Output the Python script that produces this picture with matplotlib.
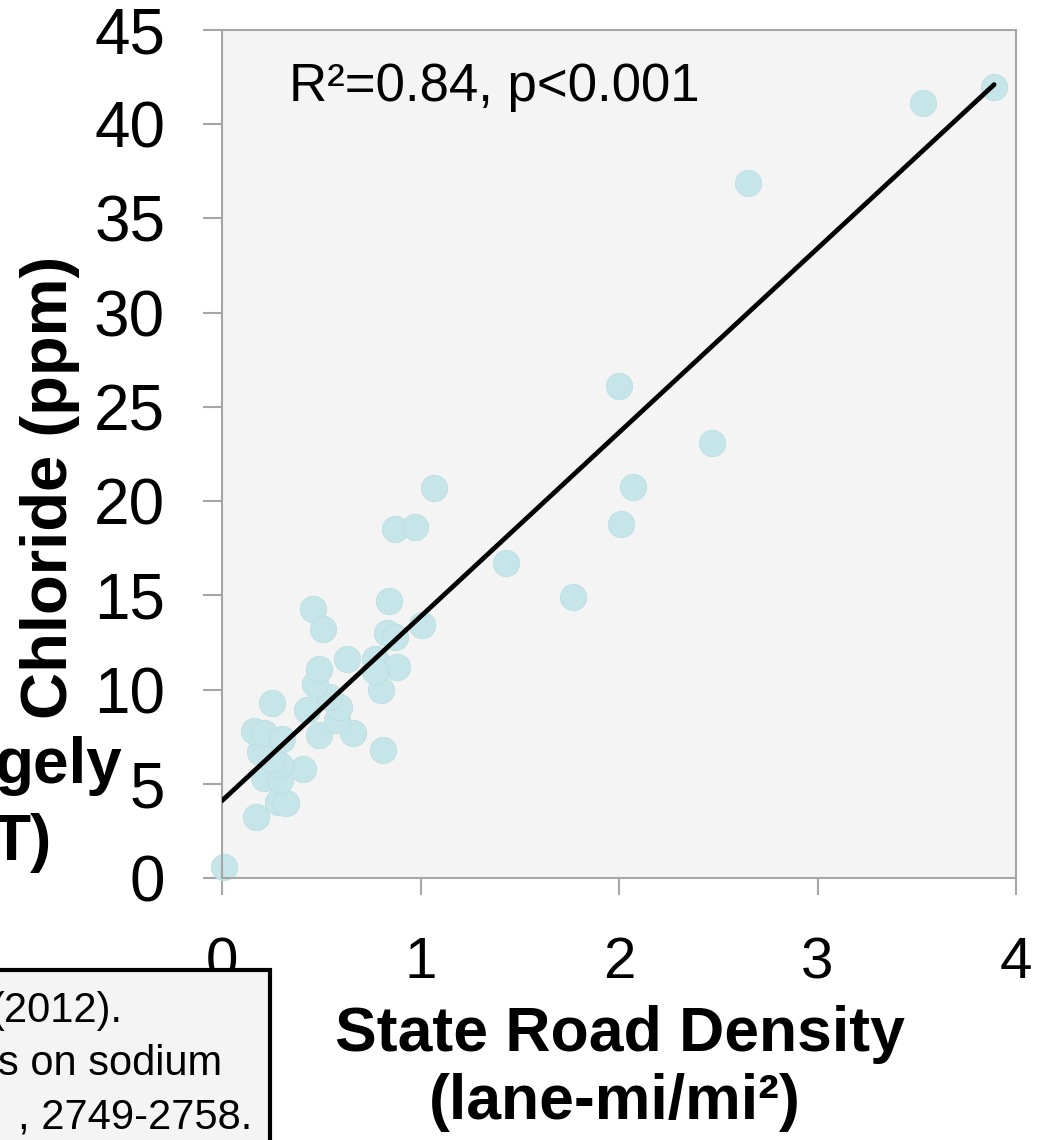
import matplotlib.pyplot as plt
from matplotlib.patches import Rectangle

# road density (lane-mi/mi2) vs chloride (ppm)
density = [0.01, 0.17, 0.28, 0.32, 0.21, 0.29, 0.41, 0.29, 0.25, 0.19,
           0.16, 0.21, 0.30, 0.25, 0.49, 0.66, 0.81, 0.43, 0.58, 0.59,
           0.54, 0.47, 0.49, 0.63, 0.77, 0.80, 0.88, 0.83, 0.87, 1.01,
           0.46, 0.51, 0.84, 0.87, 0.97, 1.07, 1.43, 1.77, 2.00, 2.01,
           2.07, 2.47, 2.65, 3.53, 3.89, 0.77]
chloride = [0.6, 3.25, 4.05, 3.96, 5.3, 5.2, 5.8, 6.0, 6.3, 6.7,
            7.8, 7.7, 7.4, 9.3, 7.6, 7.7, 6.8, 8.9, 8.4, 9.1,
            9.6, 10.3, 11.1, 11.6, 11.6, 10.0, 11.2, 13.0, 12.8, 13.4,
            14.3, 13.2, 14.7, 18.5, 18.6, 20.7, 16.7, 14.9, 26.1, 18.8,
            20.75, 23.1, 36.9, 41.1, 42.0, 11.0]

fit_intercept = 4.1
fit_slope = 9.77
fit_x = [0.0, 3.89]

x_ticks = [0, 1, 2, 3, 4]
y_ticks = [0, 5, 10, 15, 20, 25, 30, 35, 40, 45]

plt.rcParams['font.family'] = ['Liberation Sans', 'DejaVu Sans']

fig = plt.figure(figsize=(10.45, 11.4), dpi=100)
ax = fig.add_axes([222/1045, 1 - 878/1140, (1016-222)/1045, (878-30)/1140])
ax.set_facecolor('#f4f4f4')

ax.scatter(density, chloride, s=360, color='#c6e5e8', edgecolors='#bcdfe2',
           linewidths=0.6, zorder=2, clip_on=False)
ax.plot(fit_x, [fit_intercept + fit_slope * v for v in fit_x], color='black',
        lw=3.4, solid_capstyle='round', zorder=3)

ax.set_xlim(0, 4)
ax.set_ylim(0, 45)
ax.set_xticks(x_ticks)
ax.set_yticks(y_ticks)
for s in ax.spines.values():
    s.set_color('#a6a6a6')
    s.set_linewidth(1.5)
ax.tick_params(axis='y', direction='out', length=14, width=1.5, color='#a6a6a6',
               pad=27, labelsize=46)
ax.tick_params(axis='x', direction='out', length=12, width=1.5, color='#a6a6a6',
               pad=30, labelsize=42)

ax.text(0.34, 42.0, 'R²=0.84, p<0.001', fontsize=38, va='center', ha='left')

fig.text(50/1045, 1 - 487/1140, 'Chloride (ppm)', rotation=90, fontsize=47,
         fontweight='bold', ha='center', va='center')
fig.text(620/1045, 1 - 1035/1140, 'State Road Density', fontsize=45,
         fontweight='bold', ha='center', va='center')
fig.text(615/1045, 1 - 1102/1140, '(lane-mi/mi²)', fontsize=45,
         fontweight='bold', ha='center', va='center')

# pieces of the neighbouring slide content, cut by the crop
fig.text(122/1045, 1 - 783/1140, 'gely', fontsize=46, fontweight='bold',
         ha='right', va='baseline')
fig.text(52/1045, 1 - 860/1140, 'T)', fontsize=46, fontweight='bold',
         ha='right', va='baseline')

box = Rectangle((-0.05, -0.05), (270/1045) + 0.05, 0.05 + (1140-970)/1140,
                transform=fig.transFigure, facecolor='#f4f4f4',
                edgecolor='black', lw=3, zorder=10)
fig.patches.append(box)
for txt, xr, yb in [('(2012).', 122, 1022), ('s on sodium', 222, 1075),
                    (', 2749-2758.', 252, 1128)]:
    fig.text(xr/1045, 1 - yb/1140, txt, fontsize=30, ha='right', va='baseline',
             zorder=11)

fig.savefig('out.png', dpi=100)
